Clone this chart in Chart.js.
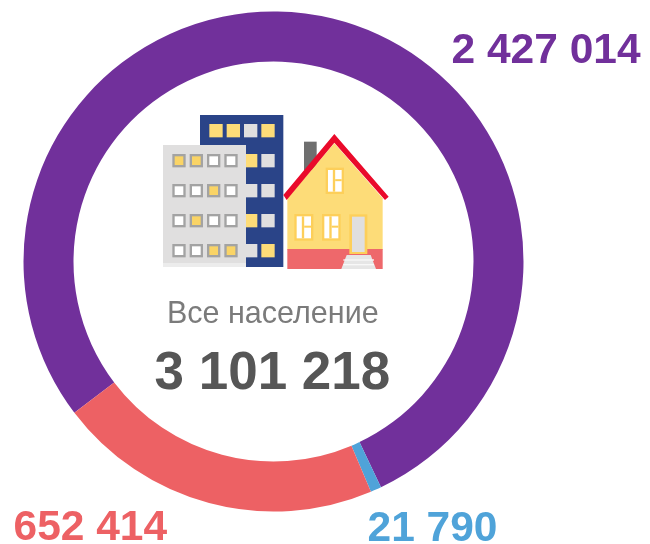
<!DOCTYPE html>
<html><head><meta charset="utf-8">
<style>html,body{margin:0;padding:0;background:#fff}#w{position:absolute;left:0;top:0;width:650px;height:544px}canvas{filter:blur(0.5px)}</style>
<script src="https://cdn.jsdelivr.net/npm/chart.js@4"></script></head>
<body><div id="w"><canvas id="c" width="650" height="544"></canvas></div>
<script>
const categories = ['Group A','Group B','Group C'];
const values = [2427014, 21790, 652414];
const colors = ['#71309b','#4fa3d9','#ed6164'];
const centerTitle = 'Все население';
const centerTotal = '3 101 218';
const valueLabels = ['2 427 014','21 790','652 414'];

function icon(ctx){
  const X=x=>150+x/3, Y=y=>100+y/3;
  const R=(c,x0,y0,x1,y1)=>{ctx.fillStyle=c;ctx.fillRect(X(x0),Y(y0),(x1-x0)/3,(y1-y0)/3);};
  const P=(c,pts)=>{ctx.fillStyle=c;ctx.beginPath();pts.forEach((p,i)=>i?ctx.lineTo(X(p[0]),Y(p[1])):ctx.moveTo(X(p[0]),Y(p[1])));ctx.closePath();ctx.fill();};
  const Y1='#fddc78',G='#e0dfdf';
  ctx.save();
  R('#2a4488',150,45,400,501);
  [[178,72,Y1],[230,72,Y1],[282,72,G],[334,72,Y1],[282,162,Y1],[334,162,G],[282,252,G],[334,252,G],[282,342,Y1],[334,342,G],[282,432,G],[334,432,Y1]]
    .forEach(w=>R(w[2],w[0],w[1],w[0]+40,w[1]+40));
  R('#e0dfdf',39,135,288,489); R('#ececec',39,489,288,501);
  const win=[[67,162,1,1,0,0],[67,252,0,0,1,0],[67,342,0,1,0,0],[67,432,0,0,1,1]];
  win.forEach(r=>{for(let i=0;i<4;i++){const x=r[0]+i*52,y=r[1];
    R('#a3a3a3',x,y,x+40,y+40);
    R(r[2+i]?'#fad466':'#fff',x+7,y+7,x+33,y+33);}});
  R('#6f6f6f',462,125,500,210);
  P('#fddc78',[[412,295],[553,130],[698,295],[698,450],[412,450]]);
  R('#ee686b',412,447,698,507);
  P('#ea0a2a',[[400,285],[553,102],[716,290],[705,300],[553,128],[410,300]]);
  const hw=(x0,y0,x1,y1)=>{R('#fdcf5a',x0,y0,x1,y1);R('#fff',x0+7,y0+7,x1-7,y1-7);R('#fdcf5a',(x0+x1)/2-6,y0+7,(x0+x1)/2+1,y1-7);R('#fdcf5a',(x0+x1)/2+1,(y0+y1)/2-5,x1-7,(y0+y1)/2+1);};
  hw(527,203,582,282);hw(433,342,490,422);hw(516,342,572,422);
  R('#fdcf5a',598,343,652,462);R('#e0dfdf',606,350,644,456);
  P('#e6e6e6',[[590,465],[662,465],[678,507],[574,507]]);
  [478,492].forEach(y=>R('#f8f8f8',580,y,672,y+4));
  ctx.restore();
}
const overlay={id:'overlay',afterDraw(chart){
  const ctx=chart.ctx;
  icon(ctx);
  ctx.save();ctx.textBaseline='alphabetic';ctx.textAlign='left';
  const T=(s,x,y,f,c)=>{ctx.font=f;ctx.fillStyle=c;ctx.fillText(s,x,y);};
  T(centerTitle,167,323,'30.5px "Liberation Sans"','#7b7b7b');
  T(centerTotal,154.5,389,'bold 53px "Liberation Sans"','#565656');
  T(valueLabels[0],451.5,63,'bold 42.5px "Liberation Sans"',colors[0]);
  T(valueLabels[1],367.5,541,'bold 42.5px "Liberation Sans"',colors[1]);
  T(valueLabels[2],13.5,540,'bold 42.5px "Liberation Sans"',colors[2]);
  ctx.restore();
}};
new Chart(document.getElementById('c'),{
  type:'doughnut',
  data:{labels:categories,datasets:[{data:values,backgroundColor:colors,borderWidth:0,hoverOffset:0}]},
  options:{responsive:false,animation:false,rotation:232.8,cutout:'80%',radius:250,
    layout:{padding:0},
    plugins:{legend:{display:false},tooltip:{enabled:false}}},
  plugins:[overlay,{id:'shift',beforeDatasetsDraw(ch){ch.ctx.save();ch.ctx.translate(273.5-ch.chartArea.width/2,261.5-ch.chartArea.height/2);},afterDatasetsDraw(ch){ch.ctx.restore();}}]
});
</script></body></html>
